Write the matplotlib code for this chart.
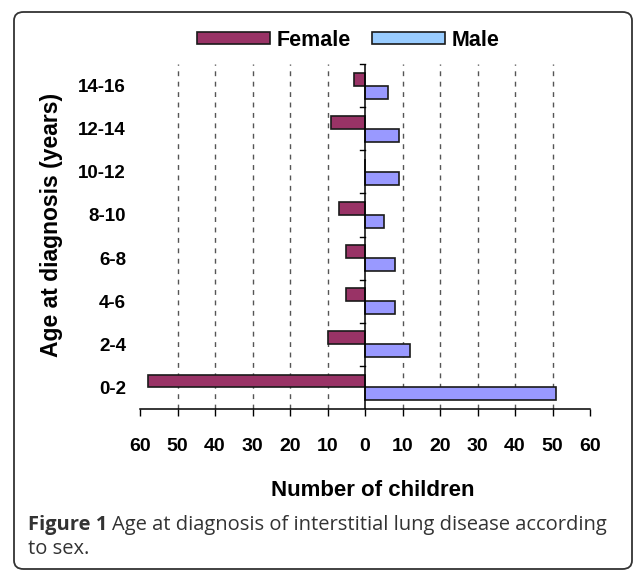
import numpy as np
import matplotlib
matplotlib.use('Agg')
from matplotlib import pyplot as plt
from matplotlib.patches import Patch, FancyBboxPatch

# data
ages = ['0-2', '2-4', '4-6', '6-8', '8-10', '10-12', '12-14', '14-16']
female = [58, 10, 5, 5, 7, 0, 9, 3]
male = [51, 12, 8, 8, 5, 9, 9, 6]
xticks = [-60, -50, -40, -30, -20, -10, 0, 10, 20, 30, 40, 50, 60]

plt.rcParams['font.family'] = ['Liberation Sans', 'DejaVu Sans']

W, H = 633, 571
fig = plt.figure(figsize=(W/100, H/100), dpi=100)
ax = fig.add_axes([140/W, 1-409/H, 450/W, 345/H])

y = np.arange(len(ages))
fcol = '#993366'
mcol = '#9999FF'
ax.barh(y+0.15, -np.array(female), height=0.3, color=fcol, edgecolor='#1a1a1a', lw=1.2, zorder=3)
ax.barh(y-0.15, male, height=0.3, color=mcol, edgecolor='#1a1a1a', lw=1.2, zorder=3)

ax.set_xlim(-60, 60)
ax.set_ylim(-0.5, len(ages)-0.5)

# dashed grid
for g in xticks:
    if g in (-60, 0, 60):
        continue
    ax.axvline(g, color='#555555', ls=(0, (3.5, 4)), lw=1, zorder=1)
ax.axvline(0, color='black', lw=1.1, zorder=4)
# little category separators on zero line
for b in np.arange(0.5, len(ages)-0.5, 1.0):
    ax.plot([-1.4, 0], [b, b], color='black', lw=1, zorder=4)
ax.plot([-1.4, 0], [len(ages)-0.5]*2, color='black', lw=1, zorder=4, clip_on=False)

for s in ['top', 'right', 'left']:
    ax.spines[s].set_visible(False)
ax.spines['bottom'].set_linewidth(1.1)

ax.set_xticks(xticks)
ax.set_xticklabels([str(abs(v)) for v in xticks], fontsize=14, fontweight='bold')
ax.tick_params(axis='x', direction='out', length=5, width=1, pad=16)
ax.set_yticks(y)
ax.set_yticklabels(ages, fontsize=13.5, fontweight='bold')
ax.tick_params(axis='y', length=0, pad=10)

fig.text(373/W, 1-490/H, 'Number of children', ha='center', va='center',
         fontsize=16, fontweight='bold')
fig.text(52/W, 1-225/H, 'Age at diagnosis (years)', ha='center', va='center',
         rotation=90, fontsize=16.5, fontweight='bold')

handles = [Patch(facecolor=fcol, edgecolor='#1a1a1a', lw=1.2, label='Female'),
           Patch(facecolor='#99CCFF', edgecolor='#1a1a1a', lw=1.2, label='Male')]
fig.legend(handles=handles, loc='center', bbox_to_anchor=(348/W, 1-40/H), ncol=2,
           frameon=False, handlelength=3.4, handleheight=0.5, handletextpad=0.3,
           columnspacing=1.0, prop={'weight': 'bold', 'size': 15.5})

# caption
r = fig.canvas.get_renderer()
t1 = fig.text(28/W, 1-525/H, 'Figure 1', ha='left', va='center', fontsize=14.5,
              fontweight='bold', color='#333333', family='Open Sans')
bb = t1.get_window_extent(renderer=r)
fig.text(bb.x1/W + 5/W, 1-525/H, 'Age at diagnosis of interstitial lung disease according',
         ha='left', va='center', fontsize=14.5, color='#333333', family='Open Sans')
fig.text(28/W, 1-549/H, 'to sex.', ha='left', va='center', fontsize=14.5,
         color='#333333', family='Open Sans')

frame = FancyBboxPatch((14/W, 1-569/H), 618/W, 557/H,
                       boxstyle='round,pad=0,rounding_size=0.015',
                       transform=fig.transFigure, fill=False, ec='#333333', lw=1.3)
fig.patches.append(frame)

fig.savefig('out.png', dpi=100)
